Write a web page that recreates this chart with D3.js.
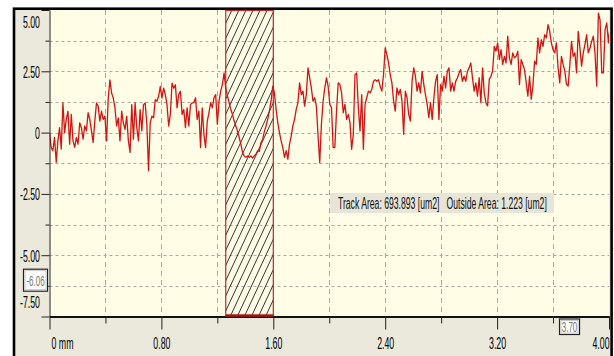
<!DOCTYPE html>
<html><head><meta charset="utf-8">
<script src="https://cdn.jsdelivr.net/npm/d3@7"></script>
<style>html,body{margin:0;padding:0;background:#fff;overflow:hidden}svg{display:block}</style>
</head><body>
<svg id="chart" width="614" height="356"></svg>
<script>
// ---- data ----
const sampleStep = 0.012; // mm between profile samples
const profileSeg1 = [0, -0.60, -0.74, -0.20, -1.21, -0.34, 0.20, -0.67, 1.21, 0,
  0.54, 0.87, -0.47, 0.74, -0.34, -0.60, -0.20, -0.47, 0.40, 0.20,
  -0.27, 0.27, 0.07, 0.81, 0.54, 0.07, -0.40, 0.47, 1.21, 1.08,
  0.47, 0.87, 0.54, 0.67, -0.34, 1.41, 2.15, 1.61, 1.41, 1.01,
  0.27, 0.60, -0.34, 0.87, 0.40, 0.13, 0.67, -0.34, -0.81, 1.14,
  -0.27, 1.21, 0.20, -0.34, 0.94, 0.07, 1.14, 1.21, 0.34, -1.55,
  0.40, 0.67, 0.60, 1.34, 1.28, 1.48, 1.88, 1.41, 1.81, 1.55,
  1.14, 0.27, 0.74, 2.02, 1.81, 1.95, 1.01, 1.55, 1.68, 0.74,
  0.94, 0.20, 1.01, 0.27, 1.14, 1.21];
const profileSeg2 = [1.22, 1.42, 0.54, 0.88, -0.61, 1.01, -0.07, -0.61, 0.47, 0.81,
  1.22, 1.01, 1.42, 1.55, 0.34, 1.28, 1.69, 1.96, 2.43, 1.82,
  1.49, 1.22, 0.95, 0.74, 0.47, 0.27, 0.07, -0.20, -0.47, -0.81,
  -0.95, -1.01, -0.95, -1.01, -0.95, -1.04, -0.95, -0.88, -0.74, -0.77,
  -0.41, -0.27, 0.04, 0.27, 0.54, 0.88, 1.28, 1.89, 1.62, 0.95,
  0.41, 0, -0.34, -0.61, -1.01, -0.74, -1.08, -0.47, -0.14, 0.27,
  0.54, 0.95, 1.22, 2.03, 1.55, 1.69, 1.08, 1.55, 2.64, 2.23,
  1.82, 1.28, 1.42, 1.08, -0.14, -1.22, 0.34, 1.28, 1.82, 2.23,
  1.89, 1.15, 1.01, -0.61];
const profileSeg3 = [-0.61, 0.88, 2.03, 1.96, 1.62, 0.81, 1.15, 0.54, 0.74, 0.41,
  -0.68, -0.07, 2.36, 2.43, 1.01, 0.07, 1.55, -0.68, 1.15, 1.42,
  1.69, 1.62, 1.76, 2.09, 2.16, 2.09, 2.16, 1.89, 1.69, 2.36,
  3.45, 3.18, 2.84, 2.36, 2.03, 1.28, 0.88, 1.82, 1.55, 1.76,
  1.28, -0.07, 1.69, 1.42, 0.74, 0.47, 2.09, 2.64, 2.30, 1.69,
  2.03, 1.62, 2.50, 1.96, 1.55, 1.15, 0.61, 1.22, 0.54, 1.42,
  2.09, 2.36, 0.54, 1.96, 1.69, 2.30, 1.82, 2.50, 2.64, 1.69,
  2.03, 1.69, 2.09, 2.23, 2.43, 2.57, 2.09, 2.30, 2.09, 2.50,
  2.64, 2.84, 2.23, 1.69];
const profileSeg4 = [2.03, 1.49, 2.24, 1.22, 2.64, 1.63, 1.22, 1.09, 2.17, 2.30,
  2.51, 3.52, 3.32, 3.66, 2.98, 3.38, 2.78, 3.11, 2.84, 3.93,
  3.05, 2.78, 3.25, 3.05, 3.11, 3.32, 1.96, 2.98, 2.78, 2.57,
  2.03, 1.49, 2.30, 1.36, 1.90, 2.91, 2.78, 3.86, 3.25, 3.79,
  3.52, 3.99, 3.86, 4.40, 4.13, 3.66, 3.38, 3.25, 3.66, 2.64,
  2.03, 3.11, 2.78, 2.51, 1.96, 1.90, 2.78, 3.72, 3.11, 3.25,
  2.44, 4.13, 3.45, 2.71, 3.25, 3.59, 3.99, 3.25, 3.45, 3.72,
  3.93, 3.25, 1.90, 4.87, 4.60, 2.44, 2.44, 4.20, 4.47, 3.66,
  4.40, 4.74];
const yTickValues = [5, 2.5, 0, -2.5, -5, -7.5];
const yTickLabels = ["5.00", "2.50", "0", "-2.50", "-5.00", "-7.50"];
const yMinorValues = [3.75, 1.25, -1.25, -3.75, -6.25];
const xTickValues = [0, 0.8, 1.6, 2.4, 3.2, 4.0];
const xTickLabels = ["0 mm", "0.80", "1.60", "2.40", "3.20", "4.00"];
const xMinorValues = [0.4, 1.2, 2.0, 2.8, 3.6];
const trackRegion = [1.26, 1.60];
const cursorY = -6.06;
const cursorX = 3.70;
const trackAreaText = "Track Area: 693.893 [um2]   Outside Area: 1.223 [um2]";

// ---- drawing ----
const profile = profileSeg1.concat(profileSeg2, profileSeg3, profileSeg4);
const W = 614, H = 356;
const FONT = "'Liberation Sans', Arial, sans-serif";
const FS = 16;
const SX = 0.55;
const svg = d3.select("#chart");
const x = d3.scaleLinear().domain([0, 4]).range([49.5, 609]);
const y = d3.scaleLinear().domain([-7.5, 5]).range([316.5, 10]);

svg.append("rect").attr("width", W).attr("height", H).attr("fill", "#fff");
svg.append("rect").attr("x", 14).attr("y", 8.7).attr("width", 597.6).attr("height", 400)
  .attr("fill", "#ebe8dc").attr("stroke", "#000").attr("stroke-width", 2.6);
svg.append("rect").attr("x", x(0)).attr("y", y(5)).attr("width", x(4) - x(0))
  .attr("height", y(-7.5) - y(5)).attr("fill", "#fffde6");

const defs = svg.append("defs");
defs.append("clipPath").attr("id", "plotclip").append("rect")
  .attr("x", x(0)).attr("y", y(5)).attr("width", x(4) - x(0)).attr("height", y(-7.5) - y(5));
const pat = defs.append("pattern").attr("id", "hatch").attr("patternUnits", "userSpaceOnUse")
  .attr("width", 6.4).attr("height", 10).attr("patternTransform", "rotate(25)");
pat.append("line").attr("x1", 3.2).attr("x2", 3.2).attr("y1", -1).attr("y2", 11)
  .attr("stroke", "#2a2a2a").attr("stroke-width", 0.9);

// grid
const yGrid = yTickValues.concat(yMinorValues).filter(v => v > -7.5 && v < 5);
svg.append("g").selectAll("line").data(yGrid).join("line")
  .attr("x1", x(0)).attr("x2", x(4)).attr("y1", d => Math.round(y(d)) + 0.5).attr("y2", d => Math.round(y(d)) + 0.5)
  .attr("stroke", "#aaa9a0").attr("stroke-width", 1).attr("stroke-dasharray", "3,3");
const xGrid = xTickValues.concat(xMinorValues).filter(v => v > 0 && v < 4);
svg.append("g").selectAll("line").data(xGrid).join("line")
  .attr("y1", y(5)).attr("y2", y(-7.5)).attr("x1", d => Math.round(x(d)) + 0.5).attr("x2", d => Math.round(x(d)) + 0.5)
  .attr("stroke", "#aaa9a0").attr("stroke-width", 1).attr("stroke-dasharray", "5,4");

// hatched track region
svg.append("rect").attr("x", x(trackRegion[0])).attr("y", y(5) + 0.5)
  .attr("width", x(trackRegion[1]) - x(trackRegion[0])).attr("height", y(-7.5) - y(5) - 1)
  .attr("fill", "url(#hatch)").attr("stroke", "#c02a2a").attr("stroke-width", 1.2);

// profile trace
const line = d3.line().x((d, i) => x(i * sampleStep)).y(d => y(d));
svg.append("path").datum(profile).attr("clip-path", "url(#plotclip)")
  .attr("d", line).attr("fill", "none").attr("stroke", "#d21414").attr("stroke-width", 1.3)
  .attr("stroke-linejoin", "round");

function scaledText(sel) {
  sel.attr("font-family", FONT).attr("font-size", FS).attr("fill", "#000");
}

// y axis
const yAxisG = svg.append("g").attr("transform", `translate(${x(0)},0)`);
yAxisG.call(d3.axisLeft(y).tickValues(yTickValues).tickFormat((d, i) => yTickLabels[i]).tickSize(8).tickSizeOuter(0));
yAxisG.select(".domain").attr("stroke", "#222");
yAxisG.selectAll(".tick line").attr("stroke", "#222");
const yOffsets = [17.5, 5.8, 5.8, 5.8, 5.8, -9];
yAxisG.selectAll(".tick text").each(function(d, i) {
  d3.select(this).attr("x", null).attr("dy", null).attr("text-anchor", "end")
    .attr("transform", `translate(-9.5,${yOffsets[i]}) scale(${SX},1)`).call(scaledText);
});
const yMinorG = svg.append("g").attr("transform", `translate(${x(0)},0)`);
yMinorG.call(d3.axisLeft(y).tickValues(yMinorValues).tickFormat("").tickSize(4).tickSizeOuter(0));
yMinorG.select(".domain").remove();
yMinorG.selectAll(".tick line").attr("stroke", "#222");

// x axis
const xAxisG = svg.append("g").attr("transform", `translate(0,${y(-7.5)})`);
xAxisG.call(d3.axisBottom(x).tickValues(xTickValues).tickFormat((d, i) => xTickLabels[i]).tickSize(13).tickSizeOuter(0));
xAxisG.select(".domain").attr("stroke", "#111").attr("stroke-width", 1.8);
xAxisG.selectAll(".tick line").attr("stroke", "#222");
const xShift = [1.5, 0, 0, 0, 0, -8.5];
xAxisG.selectAll(".tick text").each(function(d, i) {
  d3.select(this).attr("y", null).attr("dy", null).attr("text-anchor", i === 0 ? "start" : "middle")
    .attr("transform", `translate(${xShift[i]},32.5) scale(${SX},1)`).call(scaledText);
});
const xMinorG = svg.append("g").attr("transform", `translate(0,${y(-7.5)})`);
xMinorG.call(d3.axisBottom(x).tickValues(xMinorValues).tickFormat("").tickSize(7).tickSizeOuter(0));
xMinorG.select(".domain").remove();
xMinorG.selectAll(".tick line").attr("stroke", "#222");

// thick base of track region
svg.append("line").attr("x1", x(trackRegion[0])).attr("x2", x(trackRegion[1]))
  .attr("y1", y(-7.5) - 1).attr("y2", y(-7.5) - 1).attr("stroke", "#a81818").attr("stroke-width", 2.6);

// track area label
svg.append("rect").attr("x", 330).attr("y", 193).attr("width", 224).attr("height", 20).attr("fill", "#e7e4d8");
const trackText = svg.append("text").attr("font-family", FONT).attr("font-size", FS)
  .attr("fill", "#111").style("white-space", "pre").text(trackAreaText);
const natural = trackText.node().getComputedTextLength();
trackText.attr("transform", `translate(338,208.5) scale(${209 / natural},1)`);

// cursor value boxes
const cy = y(cursorY);
svg.append("rect").attr("x", 23.5).attr("y", cy - 12).attr("width", 24).attr("height", 22)
  .attr("fill", "#fff").attr("stroke", "#222").attr("stroke-width", 1.2);
svg.append("rect").attr("x", 25).attr("y", cy - 10.5).attr("width", 21).attr("height", 19)
  .attr("fill", "none").attr("stroke", "#bbb").attr("stroke-width", 0.8);
svg.append("text").attr("text-anchor", "middle")
  .attr("transform", `translate(35.5,${cy + 4.5}) scale(${SX},1)`)
  .attr("font-family", FONT).attr("font-size", 14.5).attr("fill", "#777").text(cursorY.toFixed(2));

const cx = x(cursorX);
svg.append("rect").attr("x", cx - 7.5).attr("y", 319).attr("width", 20).attr("height", 15.5)
  .attr("fill", "#fff").attr("stroke", "#222").attr("stroke-width", 1.2);
svg.append("rect").attr("x", cx - 6).attr("y", 320.5).attr("width", 17).attr("height", 12.5)
  .attr("fill", "none").attr("stroke", "#bbb").attr("stroke-width", 0.8);
svg.append("text").attr("text-anchor", "middle")
  .attr("transform", `translate(${cx + 2.5},331.5) scale(${SX},1)`)
  .attr("font-family", FONT).attr("font-size", 14.5).attr("fill", "#777").text(cursorX.toFixed(2));
</script>
</body></html>
